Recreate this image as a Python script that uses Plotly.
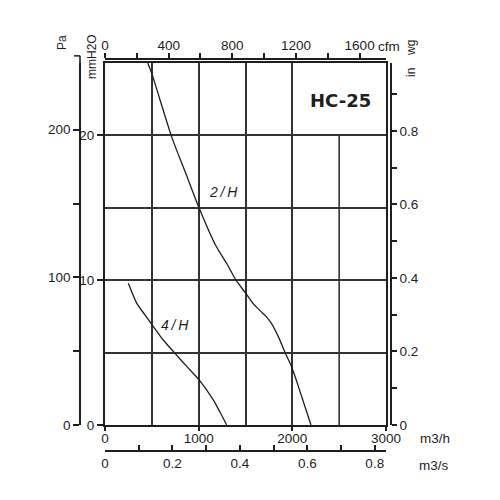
import plotly.graph_objects as go

# ---------------- data ----------------
flow_2h = [456, 498, 712, 855, 1004, 1174, 1313, 1399, 1500, 1580, 1655, 1719, 1778, 1858, 1922, 1993, 2098, 2199]
pres_2h = [25.0, 24.3, 19.9, 17.5, 15.0, 12.5, 11.0, 10.0, 9.12, 8.4, 7.9, 7.5, 7.0, 6.0, 5.0, 4.0, 2.0, 0.0]

flow_4h = [249, 338, 420, 505, 622, 747, 880, 1007, 1156, 1230, 1299]
pres_4h = [9.79, 8.42, 7.66, 6.9, 5.87, 4.95, 4.0, 3.1, 1.73, 0.86, 0.0]

curve_names = ["2/H", "4/H"]

m3h_ticks = [0, 1000, 2000, 3000]
m3h_minor_grid = [500, 1500]
partial_grid_x = 2500
partial_grid_top = 20
mm_ticks = [0, 10, 20]
mm_minor_grid = [5, 15]
cfm_ticks = [0, 400, 800, 1200, 1600]
cfm_minor = [200, 600, 1000, 1400]

X_MAX = 3000          # m3/h
Y_MAX = 25            # mmH2O
CFM_PER_M3H = 1 / 1.69901
M3S_PER_M3H = 1 / 3600
PA_PER_MM = 9.80665
INWG_PER_MM = 1 / 25.4
PA_AXIS_TOP = 250

# ---------------- layout geometry (page pixels; page body adds an 8px offset) ----------------
OFF = 8
W, H = 492, 492
ML, MR, MT, MB = 72, 109, 48, 49
PW, PH = W - ML - MR, H - MT - MB


def px_x(px):
    return (px - OFF - ML) / PW


def px_y(py):
    return (H - MB - (py - OFF)) / PH


x0, x1 = px_x(105), px_x(386)
y0, y1 = px_y(425), px_y(63)

ink = "#1e1e1e"
grid = "#333333"
FONT = "Arial"
tf = dict(family=FONT, size=13.5, color=ink)

fig = go.Figure()
fig.add_trace(go.Scatter(x=flow_2h, y=pres_2h, mode="lines", name=curve_names[0], hoverinfo="skip",
                         line=dict(color=ink, width=1.3, shape="spline", smoothing=0.8)))
fig.add_trace(go.Scatter(x=flow_4h, y=pres_4h, mode="lines", name=curve_names[1], hoverinfo="skip",
                         line=dict(color=ink, width=1.3, shape="spline", smoothing=0.6)))

# the same 2/H curve expressed in the secondary units, invisible, so that every unit axis is drawn
hidden = dict(mode="lines", opacity=0, hoverinfo="skip", showlegend=False, line=dict(width=1))
fig.add_trace(go.Scatter(x=[f * CFM_PER_M3H for f in flow_2h], y=pres_2h, xaxis="x2", yaxis="y", **hidden))
fig.add_trace(go.Scatter(x=[f * M3S_PER_M3H for f in flow_2h], y=pres_2h, xaxis="x3", yaxis="y", **hidden))
fig.add_trace(go.Scatter(x=flow_2h, y=[p * PA_PER_MM for p in pres_2h], xaxis="x", yaxis="y2", **hidden))
fig.add_trace(go.Scatter(x=flow_2h, y=[p * INWG_PER_MM for p in pres_2h], xaxis="x", yaxis="y3", **hidden))

fig.update_layout(
    width=W, height=H,
    margin=dict(l=ML, r=MR, t=MT, b=MB, pad=0),
    paper_bgcolor="white", plot_bgcolor="rgba(0,0,0,0)",
    showlegend=False,
    font=dict(family=FONT, size=13.5, color=ink),
    xaxis=dict(domain=[x0, x1], range=[0, X_MAX], tickvals=m3h_ticks, ticks="outside", ticklen=4, tickwidth=1.5,
               tickcolor=ink, tickfont=tf, ticklabelstandoff=-4, showgrid=True, gridcolor=grid, gridwidth=1.6,
               minor=dict(tickvals=m3h_minor_grid, showgrid=True, gridcolor=grid, gridwidth=1.6, ticks=""),
               showline=True, mirror=True, linecolor=ink, linewidth=2, zeroline=False, fixedrange=True),
    yaxis=dict(domain=[y0, y1], range=[0, Y_MAX], tickvals=mm_ticks, ticks="outside", ticklen=6, tickwidth=1.5,
               tickcolor=ink, tickfont=tf, showgrid=True, gridcolor=grid, gridwidth=1.6,
               minor=dict(tickvals=mm_minor_grid, showgrid=True, gridcolor=grid, gridwidth=1.6, ticks=""),
               showline=True, mirror=True, linecolor=ink, linewidth=2, zeroline=False, fixedrange=True),
    xaxis2=dict(overlaying="x", anchor="free", position=px_y(58.5), side="top",
                range=[0, X_MAX * CFM_PER_M3H], tickvals=cfm_ticks, ticks="outside", ticklen=5, tickwidth=1.5,
                tickcolor=ink, tickfont=tf, ticklabelstandoff=-3,
                minor=dict(tickvals=cfm_minor, ticks="outside", ticklen=5, tickwidth=1.5, tickcolor=ink),
                showgrid=False, zeroline=False, showline=True, linecolor=ink, linewidth=1.6, fixedrange=True),
    xaxis3=dict(overlaying="x", anchor="free", position=0, side="bottom",
                range=[0, X_MAX * M3S_PER_M3H], tick0=0, dtick=0.2, ticks="inside", ticklen=5, tickwidth=1.5,
                tickcolor=ink, tickfont=tf, tickformat=".1~f",
                minor=dict(dtick=0.1, ticks="inside", ticklen=5, tickwidth=1.5, tickcolor=ink),
                showgrid=False, zeroline=False, showline=True, linecolor=ink, linewidth=1.6, fixedrange=True),
    yaxis2=dict(overlaying="y", anchor="free", position=0, side="left",
                range=[0, Y_MAX * PA_PER_MM], tick0=0, dtick=100, ticks="outside", ticklen=6, tickwidth=1.5,
                tickcolor=ink, tickfont=tf,
                minor=dict(dtick=50, ticks="outside", ticklen=6, tickwidth=1.5, tickcolor=ink),
                showgrid=False, zeroline=False, showline=True, linecolor=ink, linewidth=1.6, fixedrange=True),
    yaxis3=dict(overlaying="y", anchor="free", position=1, side="right",
                range=[0, Y_MAX * INWG_PER_MM], tick0=0, dtick=0.2, ticks="outside", ticklen=5, tickwidth=1.5,
                tickcolor=ink, tickfont=tf, tickformat=".1~f",
                minor=dict(dtick=0.1, ticks="outside", ticklen=5, tickwidth=1.5, tickcolor=ink),
                showgrid=False, zeroline=False, showline=True, linecolor=ink, linewidth=1.6, fixedrange=True),
)

# partial grid line at 2500 m3/h (stops under the HC-25 title)
fig.add_shape(type="line", xref="x", yref="y", x0=partial_grid_x, x1=partial_grid_x, y0=0, y1=partial_grid_top,
              line=dict(color=grid, width=1.6), layer="below")

# Pa axis continues a little above the frame up to 250 Pa
pa_top_paper = y0 + (PA_AXIS_TOP / PA_PER_MM) / Y_MAX * (y1 - y0)
fig.add_shape(type="line", xref="paper", yref="paper", x0=0, x1=0, y0=y1, y1=pa_top_paper,
              line=dict(color=ink, width=1.6))
fig.add_shape(type="line", xref="paper", yref="paper", x0=-6 / PW, x1=0, y0=pa_top_paper, y1=pa_top_paper,
              line=dict(color=ink, width=1.5))


def ann(text, px, py, size=12, angle=0, bold=False, italic=False, family=FONT):
    t = text
    if bold:
        t = "<b>" + t + "</b>"
    if italic:
        t = "<i>" + t + "</i>"
    fig.add_annotation(text=t, xref="paper", yref="paper", x=px_x(px), y=px_y(py), showarrow=False,
                       textangle=angle, xanchor="center", yanchor="middle",
                       font=dict(family=family, size=size, color=ink))


ann("Pa", 62, 43, size=12, angle=-90)
ann("mmH2O", 92, 57, size=12, angle=-90)
ann("wg", 411, 48, size=12, angle=-90)
ann("in", 411, 73, size=12, angle=-90)
ann("cfm", 389, 46, size=13.5)
ann("m3/h", 435, 438, size=13.5)
ann("m3/s", 434, 465, size=13.5)
ann("HC-25", 340, 100, size=18, bold=True, family="DejaVu Sans")
ann("2\u2009/\u2009H", 223, 192, size=14, italic=True)
ann("4\u2009/\u2009H", 175, 325, size=14, italic=True)

fig.write_html("out.html")
